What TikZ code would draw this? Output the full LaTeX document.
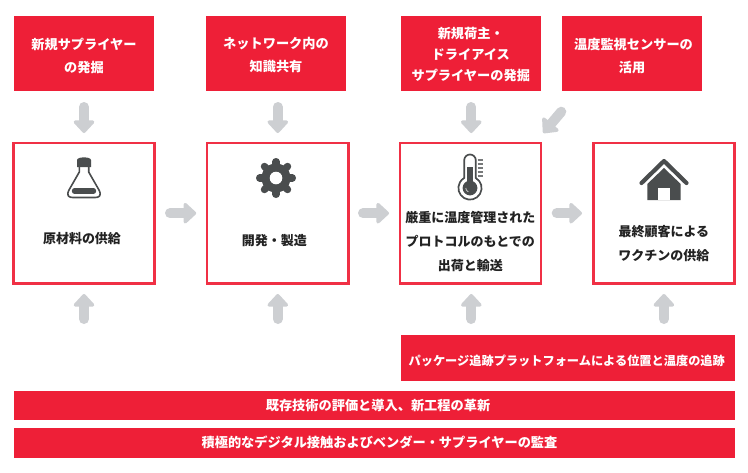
\documentclass[tikz,border=0pt]{standalone}
\usepackage{fontspec}
\usetikzlibrary{arrows.meta}
\setmainfont{Noto Sans CJK JP}
\definecolor{brandred}{HTML}{EE1F37}
\definecolor{framered}{HTML}{F03045}
\definecolor{arrowgray}{HTML}{CDCFD2}
\definecolor{icongray}{HTML}{4A4D4E}
\definecolor{inktext}{HTML}{222222}
\newcommand{\nudgetext}[1]{\rule{0pt}{#1}}
\tikzset{
  redbox/.style={fill=brandred,draw=none,inner sep=0pt,outer sep=0pt,align=center,text=white,font=\fontsize{13.2}{22.5}\selectfont\bfseries,anchor=north west},
  framebox/.style={draw=framered,line width=2.4pt,fill=white,inner sep=0pt,outer sep=0pt,align=center,text=inktext,anchor=north west,minimum width=141.2pt,minimum height=140.8pt,font=\fontsize{13}{24}\selectfont\bfseries},
  grayarrow/.style={draw=arrowgray,line width=10pt,line cap=round,-{Triangle[round,width=24pt,length=13.5pt]}},
  iconfill/.style={fill=icongray,draw=none},
  iconline/.style={draw=icongray,fill=none}
}
\begin{document}
\begin{tikzpicture}[x=1pt,y=-1pt]
\useasboundingbox (0,0) rectangle (748,472);
\fill[white] (0,0) rectangle (748,472);
% top red boxes
\node[redbox,minimum width=140pt,minimum height=75pt] (s1) at (14,16) {\nudgetext{16pt}新規サプライヤー\\の発掘};
\node[redbox,minimum width=140pt,minimum height=75pt] (s2) at (206,16) {\nudgetext{14pt}ネットワーク内の\\知識共有};
\node[redbox,minimum width=140.5pt,minimum height=75pt,font=\fontsize{13.2}{21}\selectfont\bfseries] (s3) at (400.5,16) {\nudgetext{14pt}新規荷主・\\ドライアイス\\サプライヤーの発掘};
\node[redbox,minimum width=140pt,minimum height=75pt] (s4) at (562,16) {\nudgetext{16pt}\hspace*{3pt}温度監視センサーの\\活用};
% framed boxes
\node[framebox] (p1) at (13.4,142.8) {\mbox{}\\[38pt]原材料の供給\hspace*{4pt}};
\node[framebox] (p2) at (207.2,142.8) {\mbox{}\\[42pt]開発・製造\hspace*{7pt}};
\node[framebox] (p3) at (399.7,142.8) {\mbox{}\\[44pt]厳重に温度管理された\\プロトコルのもとでの\\出荷と輸送};
\node[framebox] (p4) at (593.3,142.8) {\mbox{}\\[48pt]最終顧客による\\ワクチンの供給};
% bars
\node[redbox,minimum width=334.5pt,minimum height=45.7pt,font=\fontsize{12.2}{20}\selectfont\bfseries] (b1) at (400.5,335.3) {\nudgetext{15pt}パッケージ追跡プラットフォームによる位置と温度の追跡\hspace*{2pt}};
\node[redbox,minimum width=721pt,minimum height=29.3pt] (b2) at (14,391) {\hspace*{7pt}既存技術の評価と導入、新工程の革新};
\node[redbox,minimum width=721pt,minimum height=30pt] (b3) at (14,427.7) {\hspace*{10pt}積極的なデジタル接触およびベンダー・サプライヤーの監査};
% arrows down
\draw[grayarrow] ([yshift=-16pt]s1.south) -- ([yshift=9.8pt]s1.south |- p1.north);
\draw[grayarrow] ([yshift=-16pt]p2.north |- s2.south) -- ([yshift=9.8pt]p2.north);
\draw[grayarrow] ([xshift=0.5pt,yshift=-16pt]s3.south) -- ([xshift=0.5pt,yshift=9.8pt]s3.south |- p3.north);
\draw[grayarrow] ([xshift=-0.7pt,yshift=-20.7pt]s4.south west) -- ([xshift=2.4pt,yshift=9.8pt]p3.north east);
% arrows right
\draw[grayarrow] ([xshift=15.4pt]p1.east) -- ([xshift=-11pt]p2.west);
\draw[grayarrow] ([xshift=14.6pt]p2.east) -- ([xshift=-10.7pt]p3.west);
\draw[grayarrow] ([xshift=15.8pt]p3.east) -- ([xshift=-11.3pt]p4.west);
% arrows up
\draw[grayarrow] ([yshift=72pt]p1.south |- b2.north) -- ([yshift=-10.4pt]p1.south);
\draw[grayarrow] ([yshift=72pt]p2.south |- b2.north) -- ([yshift=-10.4pt]p2.south);
\draw[grayarrow] ([xshift=1pt,yshift=16.3pt]p3.south |- b1.north) -- ([xshift=1pt,yshift=-10.4pt]p3.south);
\draw[grayarrow] ([yshift=16.3pt]p4.south |- b1.north) -- ([yshift=-10.4pt]p4.south);
% flask icon
\fill[iconfill] (77,160) .. controls (77,156.5) and (91,156.5) .. (91,160) -- (91,167) -- (77,167) -- cycle;
\draw[iconline,line width=1.6pt,line join=round] (79.3,167) -- (79.3,172) -- (69,190) .. controls (66,196) and (69,197.5) .. (73,197.5) -- (95,197.5) .. controls (99,197.5) and (102,196) .. (99,190) -- (88.7,172) -- (88.7,167);
\draw[icongray,line width=5.4pt,line cap=round] (74.5,191) -- (93.5,191);
% gear icon
\foreach \a in {0,45,...,315}{
  \draw[icongray,line width=7.4pt,line cap=round] (276,178) -- ++(\a:16.3);
}
\fill[iconfill] (276,178) circle[radius=14.5pt];
\fill[white] (276,178) circle[radius=6.3pt];
% thermometer icon
\draw[draw=icongray,fill=white,line width=1.7pt] (464.2,178) -- (464.2,160.3) arc[start angle=180,end angle=0,radius=5.8pt] -- (475.8,178) arc[start angle=60,end angle=-240,radius=11.6pt] -- cycle;
\fill[iconfill] (470,188) circle[radius=7.4pt];
\fill[iconfill] (467.3,166.7) rectangle (472.9,186);
\draw[white!65!icongray,line width=0.9pt] (465.8,188) arc[start angle=180,end angle=245,radius=4.2pt];
\foreach \ty in {160,164,168,172,176}{
  \draw[white!25!icongray,line width=1.7pt] (477.5,\ty) -- (482.7,\ty);
}
% house icon
\draw[icongray,line width=4.2pt,line cap=round,line join=round] (641.5,183) -- (664,161) -- (686.5,183);
\fill[iconfill] (664,168) -- (680.7,184) -- (680.7,200) -- (647.3,200) -- (647.3,184) -- cycle;
\fill[white] (658,188) rectangle (670,200.2);
\end{tikzpicture}
\end{document}
